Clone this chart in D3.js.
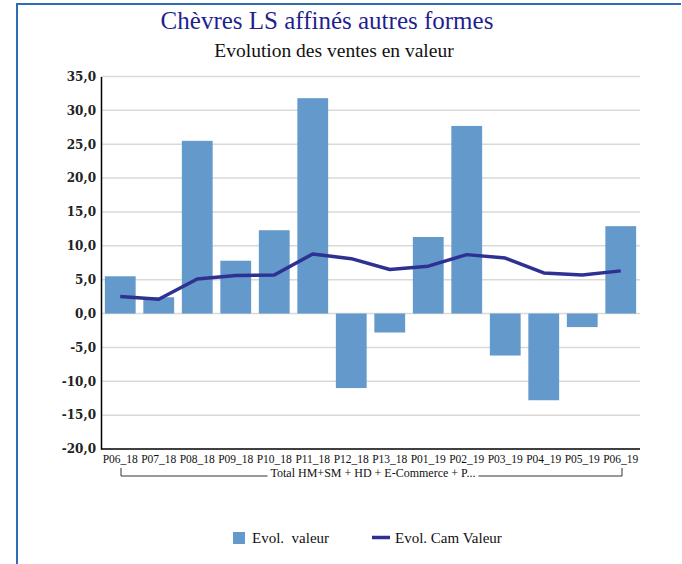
<!DOCTYPE html>
<html><head><meta charset="utf-8">
<script src="https://cdn.jsdelivr.net/npm/d3@7"></script>
<style>body{margin:0;background:#fff}svg{display:block}</style>
</head><body>
<script>
const categories = ["P06_18","P07_18","P08_18","P09_18","P10_18","P11_18","P12_18","P13_18","P01_19","P02_19","P03_19","P04_19","P05_19","P06_19"];
const evolValeur = [5.5,2.4,25.5,7.8,12.3,31.8,-11.0,-2.8,11.3,27.7,-6.2,-12.8,-2.0,12.9];
const evolCam = [2.5,2.1,5.1,5.6,5.7,8.8,8.1,6.5,7.0,8.7,8.2,6.0,5.7,6.3];
const yTicks = [35,30,25,20,15,10,5,0,-5,-10,-15,-20];
const title = "Chèvres LS affinés autres formes";
const subtitle = "Evolution des ventes en valeur";
const groupLabel = "Total HM+SM + HD + E-Commerce + P...";
const legendLabels = ["Evol.  valeur","Evol. Cam Valeur"];

const W=682,H=564;
const svg=d3.select("body").append("svg").attr("width",W).attr("height",H);
const serif="'DejaVu Serif', 'Liberation Serif', serif";
const lserif="'Liberation Serif', serif";

// frame
svg.append("path").attr("d","M17,566 L17,4 L681,4").attr("fill","none").attr("stroke","#2f6db5").attr("stroke-width",2);

svg.append("text").attr("x",327).attr("y",29).attr("text-anchor","middle")
  .attr("font-family",lserif).attr("font-size",25).attr("fill","#1f1f8f").text(title);
svg.append("text").attr("x",334).attr("y",57).attr("text-anchor","middle")
  .attr("font-family",lserif).attr("font-size",19.5).attr("fill","#111").text(subtitle);

const x=d3.scaleBand().domain(categories).range([101,640]).paddingInner(0.2).paddingOuter(0.1);
const y=d3.scaleLinear().domain([-20,35]).range([449,76.5]);

// gridlines
svg.append("g").selectAll("line").data(yTicks.filter(t=>t!==-20)).join("line")
  .attr("x1",101).attr("x2",640).attr("y1",d=>y(d)).attr("y2",d=>y(d))
  .attr("stroke","#d9d9d9").attr("stroke-width",1.5);

// bars
svg.append("g").selectAll("rect").data(categories).join("rect")
  .attr("x",d=>x(d)).attr("width",x.bandwidth())
  .attr("y",(d,i)=>y(Math.max(0,evolValeur[i])))
  .attr("height",(d,i)=>Math.abs(y(evolValeur[i])-y(0)))
  .attr("fill","#6399cb");

// line
const line=d3.line().x((d,i)=>x(categories[i])+x.bandwidth()/2).y(d=>y(d));
svg.append("path").datum(evolCam).attr("d",line).attr("fill","none")
  .attr("stroke","#2e3192").attr("stroke-width",3.5).attr("stroke-linejoin","round");

// y axis
const yAxis=d3.axisLeft(y).tickValues(yTicks).tickSize(0).tickPadding(5)
  .tickFormat(d=>d3.format(".1f")(d).replace(".",",").replace("\u2212","-"));
const ga=svg.append("g").attr("transform","translate(101,0)").call(yAxis);
ga.select(".domain").attr("stroke","#000").attr("stroke-width",1.5);
ga.selectAll("text").attr("font-family",serif).attr("font-size",12).attr("font-weight","bold").attr("fill","#222");

// x axis
const xAxis=d3.axisBottom(x).tickSize(0).tickPadding(6);
const gx=svg.append("g").attr("transform","translate(0,449)").call(xAxis);
gx.select(".domain").attr("stroke","#000").attr("stroke-width",1.5).attr("d","M101,0H640");
gx.selectAll("text").attr("font-family",lserif).attr("font-size",11.5).attr("fill","#111");

// group bracket
const gl=svg.append("text").attr("x",373).attr("y",477).attr("text-anchor","middle")
  .attr("font-family",lserif).attr("font-size",12).attr("fill","#111").text(groupLabel);
const bb=gl.node().getBBox();
svg.append("path").attr("d",`M121,468 V476 H${bb.x-3} M${bb.x+bb.width+3},476 H622 V468`)
  .attr("fill","none").attr("stroke","#333").attr("stroke-width",1);

// legend
svg.append("rect").attr("x",233).attr("y",532).attr("width",12).attr("height",12).attr("fill","#6399cb");
svg.append("text").attr("x",252).attr("y",543).attr("font-family",lserif).attr("font-size",15).attr("fill","#111").attr("xml:space","preserve").style("white-space","pre").text(legendLabels[0]);
svg.append("line").attr("x1",372).attr("x2",390).attr("y1",537.5).attr("y2",537.5).attr("stroke","#2e3192").attr("stroke-width",3.5);
svg.append("text").attr("x",395).attr("y",543).attr("font-family",lserif).attr("font-size",15).attr("fill","#111").text(legendLabels[1]);
</script>
</body></html>
